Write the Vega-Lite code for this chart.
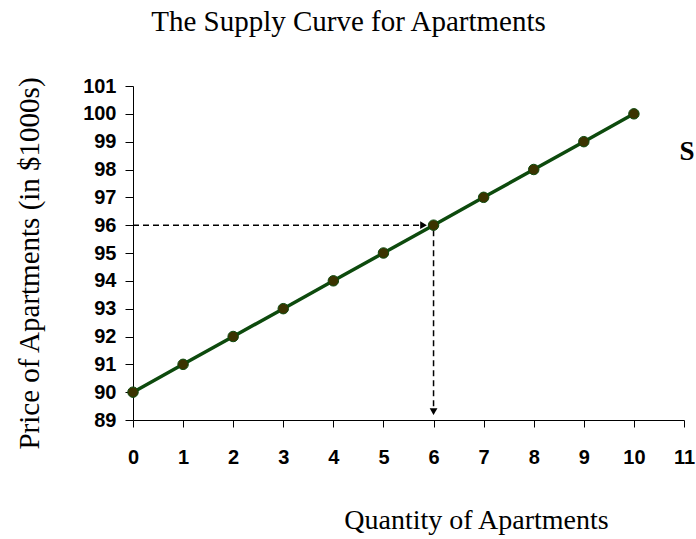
{
  "$schema": "https://vega.github.io/schema/vega-lite/v6.json",
  "width": 551,
  "height": 334,
  "autosize": {"type": "none"},
  "padding": {"left": 133, "top": 86, "right": 12, "bottom": 119},
  "background": "white",
  "config": {"view": {"stroke": null}, "axis": {"grid": false}},
  "title": {"text": "The Supply Curve for Apartments", "font": "Liberation Serif", "fontSize": 29, "fontWeight": "normal", "color": "black", "anchor": "middle", "frame": "group", "dx": -60, "offset": 39},
  "datasets": {
    "supply": [
      {"q": 0, "p": 90}, {"q": 1, "p": 91}, {"q": 2, "p": 92}, {"q": 3, "p": 93}, {"q": 4, "p": 94}, {"q": 5, "p": 95},
      {"q": 6, "p": 96}, {"q": 7, "p": 97}, {"q": 8, "p": 98}, {"q": 9, "p": 99}, {"q": 10, "p": 100}
    ],
    "hdash": [{"q": 0, "p": 96, "q2": 5.78, "p2": 96}],
    "vdash": [{"q": 6, "p": 95.82, "q2": 6, "p2": 89.35}],
    "arrowR": [{"q": 5.8, "p": 96}],
    "arrowD": [{"q": 6, "p": 89.3}],
    "label": [{"q": 11.06, "p": 98.63, "t": "S"}]
  },
  "encoding": {
    "x": {"field": "q", "type": "quantitative", "scale": {"domain": [0, 11], "nice": false},
      "axis": {"values": [0,1,2,3,4,5,6,7,8,9,10,11], "title": "Quantity of Apartments", "titleFont": "Liberation Serif", "titleFontSize": 28, "titleFontWeight": "normal", "titleColor": "black", "titleX": 343, "titleY": 108, "titleBaseline": "alphabetic", "titleAlign": "center",
        "labelFont": "Liberation Sans", "labelFontSize": 20, "labelFontWeight": "bold", "labelColor": "black", "labelPadding": 20, "tickSize": 7, "tickColor": "black", "domainColor": "black", "labelFlush": false}},
    "y": {"field": "p", "type": "quantitative", "scale": {"domain": [89, 101], "nice": false, "zero": false},
      "axis": {"values": [89,90,91,92,93,94,95,96,97,98,99,100,101], "title": "Price of Apartments (in $1000s)", "titleFont": "Liberation Serif", "titleFontSize": 29, "titleFontWeight": "normal", "titleColor": "black", "titleX": -95, "titleY": 177, "titleAngle": -90, "titleBaseline": "alphabetic", "titleAlign": "center",
        "labelFont": "Liberation Sans", "labelFontSize": 20, "labelFontWeight": "bold", "labelColor": "black", "labelPadding": 9, "tickSize": 8, "tickColor": "black", "domainColor": "black", "labelFlush": false}}
  },
  "layer": [
    {"data": {"name": "hdash"}, "mark": {"type": "rule", "strokeDash": [6, 4], "strokeWidth": 1.5, "color": "black"},
      "encoding": {"x2": {"field": "q2"}, "y2": {"field": "p2"}}},
    {"data": {"name": "vdash"}, "mark": {"type": "rule", "strokeDash": [6, 4], "strokeWidth": 1.5, "color": "black"},
      "encoding": {"x2": {"field": "q2"}, "y2": {"field": "p2"}}},
    {"data": {"name": "arrowR"}, "mark": {"type": "point", "shape": "triangle-right", "filled": true, "color": "black", "size": 60, "opacity": 1}},
    {"data": {"name": "arrowD"}, "mark": {"type": "point", "shape": "triangle-down", "filled": true, "color": "black", "size": 60, "opacity": 1}},
    {"data": {"name": "supply"}, "mark": {"type": "line", "color": "#0d4a0d", "strokeWidth": 3.5}},
    {"data": {"name": "supply"}, "mark": {"type": "point", "filled": true, "size": 110, "color": "#3b3300", "stroke": "#0d4a0d", "strokeWidth": 1, "opacity": 1}},
    {"data": {"name": "label"}, "mark": {"type": "text", "font": "Liberation Serif", "fontSize": 27, "fontWeight": "bold", "color": "black", "clip": false},
      "encoding": {"text": {"field": "t"}}}
  ]
}
